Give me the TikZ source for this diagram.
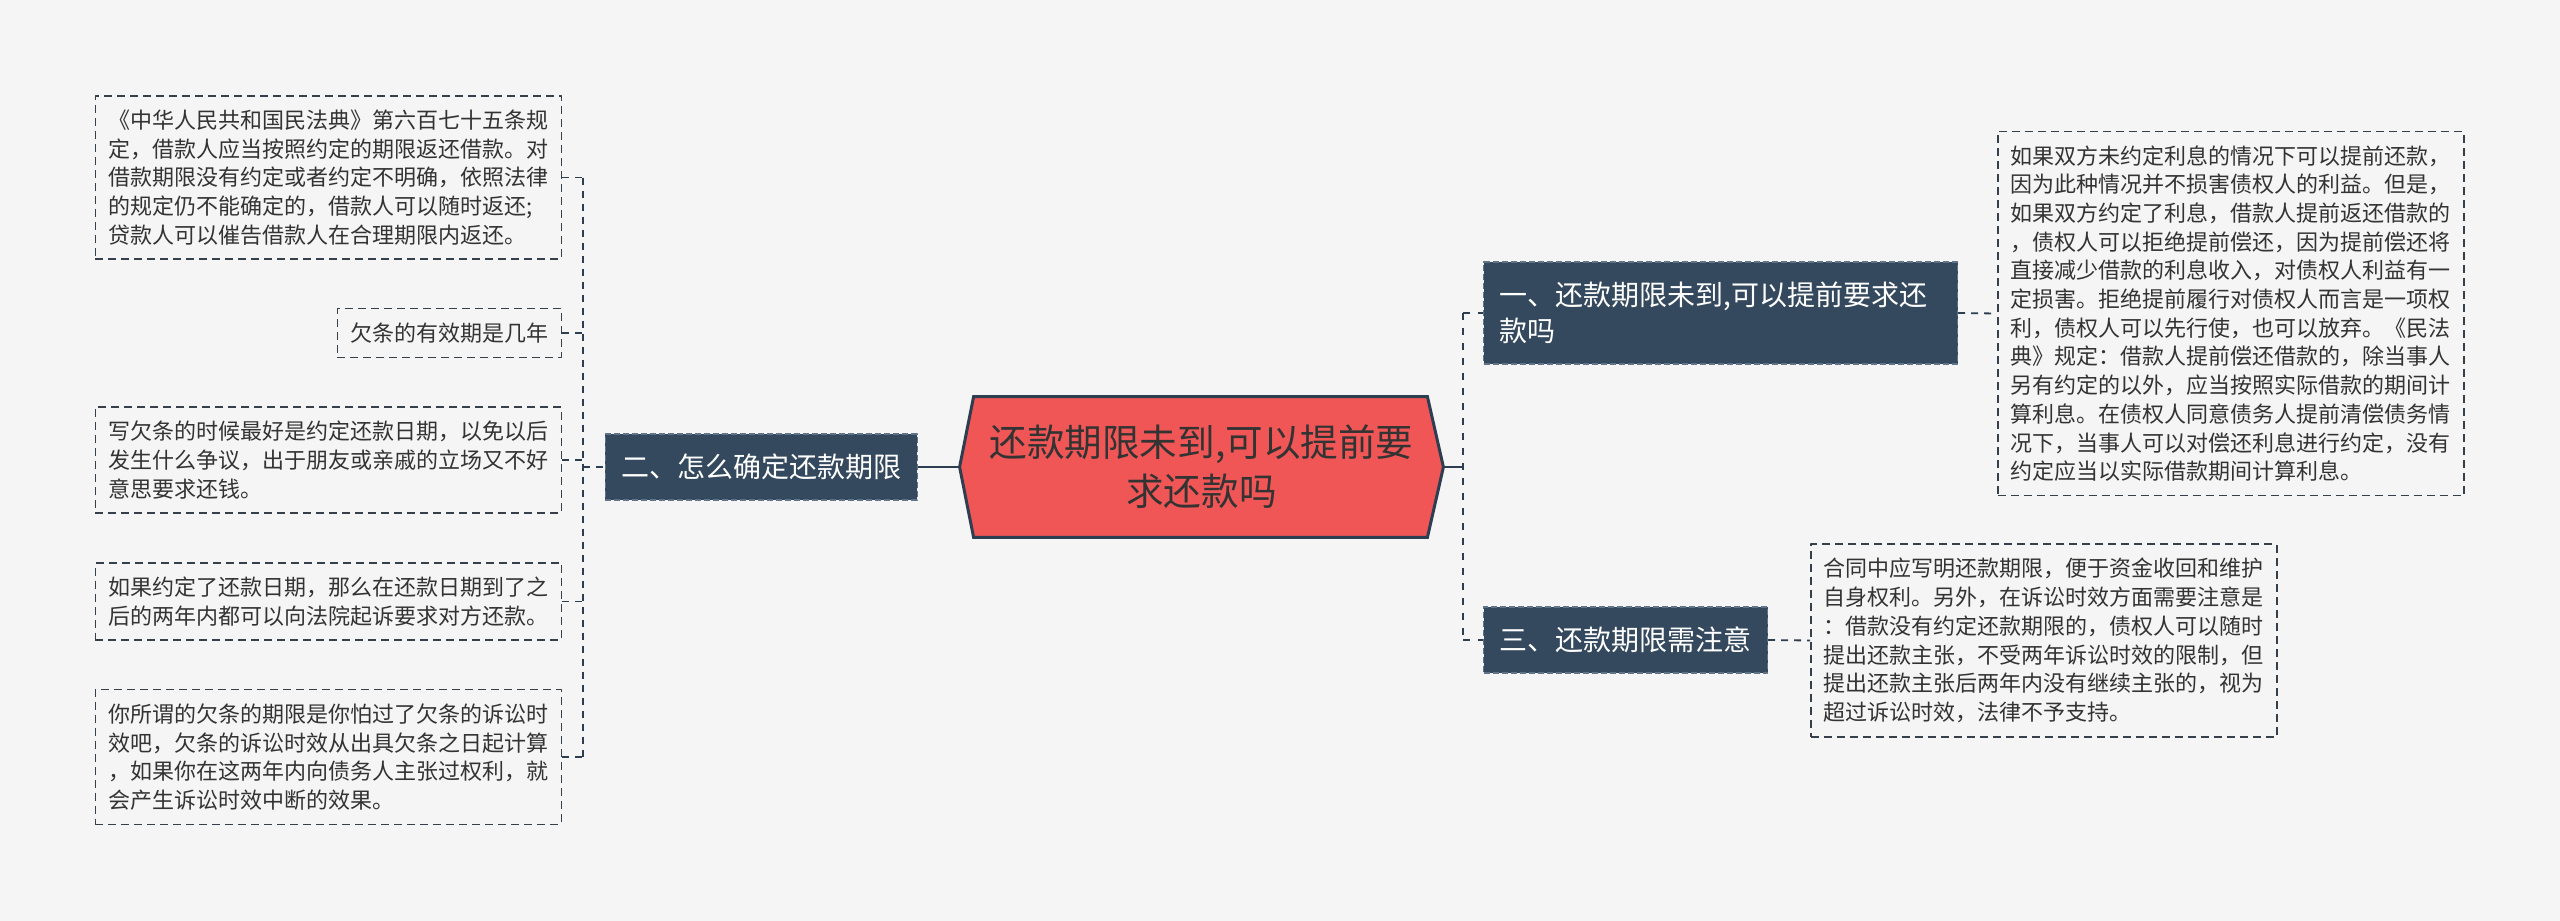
\documentclass[tikz,border=0pt]{standalone}
\usepackage{fontspec}
\setmainfont{Noto Sans CJK SC}
\usepackage{xcolor}
\usepackage{tikz}
\usetikzlibrary{backgrounds}
\definecolor{pagebg}{HTML}{F5F5F5}
\definecolor{rootred}{HTML}{F05656}
\definecolor{navy}{HTML}{2C3E50}
\definecolor{branchfill}{HTML}{34495E}
\definecolor{branchline}{HTML}{5F7389}
\definecolor{leafline}{HTML}{36404B}
\definecolor{txt}{HTML}{333333}
\tikzset{
  rootbox/.style={minimum width=241.5pt, minimum height=70pt, inner sep=0pt,
    align=center, text=txt, font=\fontsize{18.8}{24.5}\selectfont},
  hexfill/.style={fill=rootred, draw=navy, line width=1.5pt},
  branch/.style={fill=branchfill, draw=branchline, line width=0.6pt,
    dash pattern=on 3pt off 1.5pt, text=white, align=left,
    inner xsep=8pt, inner ysep=10pt, font=\fontsize{14}{18}\selectfont},
  leaf/.style={draw=leafline, line width=0.75pt, dash pattern=on 4pt off 2.5pt,
    text=txt, align=left, inner xsep=6.5pt, inner ysep=7pt,
    font=\fontsize{11}{14.35}\selectfont},
  trunk/.style={draw=navy, line width=1.4pt, dash pattern=on 3.5pt off 4pt},
  thinlink/.style={draw=navy, line width=0.9pt, dash pattern=on 3.5pt off 3pt},
  solidlink/.style={draw=navy, line width=1.4pt},
  every picture/.style={line join=round}
}

\begin{document}
\begin{tikzpicture}[x=0.5pt,y=-0.5pt]
  \begin{scope}[on background layer]
    \fill[pagebg] (0,0) rectangle (2560,921);
  \end{scope}
  \useasboundingbox (0,0) rectangle (2560,921);

  % centre topic
  \node[rootbox] (root) at (1201.5,467) {还款期限未到,可以提前要\\求还款吗};
  \begin{scope}[on background layer]
    \draw[hexfill] (root.west) -- ([xshift=7pt]root.north west)
      -- ([xshift=-8pt]root.north east) -- (root.east)
      -- ([xshift=-8pt]root.south east) -- ([xshift=7pt]root.south west) -- cycle;
  \end{scope}

  % branches
  \node[branch, anchor=west, text width=221pt] (b1) at (1483,313)
    {一、还款期限未到,可以提前要求还\\款吗};
  \node[branch, anchor=east] (b2) at (918,467) {二、怎么确定还款期限};
  \node[branch, anchor=west] (b3) at (1483,640) {三、还款期限需注意};

  % leaves, left
  \node[leaf, anchor=east] (l1) at (562,177.5) {%
    《中华人民共和国民法典》第六百七十五条规\\
    定，借款人应当按照约定的期限返还借款。对\\
    借款期限没有约定或者约定不明确，依照法律\\
    的规定仍不能确定的，借款人可以随时返还;\\
    贷款人可以催告借款人在合理期限内返还。};
  \node[leaf, anchor=east] (l2) at (562,333) {欠条的有效期是几年};
  \node[leaf, anchor=east] (l3) at (562,460) {%
    写欠条的时候最好是约定还款日期，以免以后\\
    发生什么争议，出于朋友或亲戚的立场又不好\\
    意思要求还钱。};
  \node[leaf, anchor=east] (l4) at (562,601.5) {%
    如果约定了还款日期，那么在还款日期到了之\\
    后的两年内都可以向法院起诉要求对方还款。};
  \node[leaf, anchor=east] (l5) at (562,757) {%
    你所谓的欠条的期限是你怕过了欠条的诉讼时\\
    效吧，欠条的诉讼时效从出具欠条之日起计算\\
    ，如果你在这两年内向债务人主张过权利，就\\
    会产生诉讼时效中断的效果。};

  % leaves, right
  \node[leaf, anchor=west] (r1) at (1997,313.5) {%
    如果双方未约定利息的情况下可以提前还款，\\
    因为此种情况并不损害债权人的利益。但是，\\
    如果双方约定了利息，借款人提前返还借款的\\
    ，债权人可以拒绝提前偿还，因为提前偿还将\\
    直接减少借款的利息收入，对债权人利益有一\\
    定损害。拒绝提前履行对债权人而言是一项权\\
    利，债权人可以先行使，也可以放弃。《民法\\
    典》规定：借款人提前偿还借款的，除当事人\\
    另有约定的以外，应当按照实际借款的期间计\\
    算利息。在债权人同意债务人提前清偿债务情\\
    况下，当事人可以对偿还利息进行约定，没有\\
    约定应当以实际借款期间计算利息。};
  \node[leaf, anchor=west] (r3) at (1810,640.5) {%
    合同中应写明还款期限，便于资金收回和维护\\
    自身权利。另外，在诉讼时效方面需要注意是\\
    ：借款没有约定还款期限的，债权人可以随时\\
    提出还款主张，不受两年诉讼时效的限制，但\\
    提出还款主张后两年内没有继续主张的，视为\\
    超过诉讼时效，法律不予支持。};

  % connectors
  \coordinate (ltrunk) at (583,467);
  \coordinate (rtrunk) at (1463,467);

  \draw[thinlink] (l1.east -| ltrunk) -- (l5.east -| ltrunk);
  \foreach \n in {l1,l2,l3,l4,l5}
    \draw[thinlink] (\n.east) -- (\n.east -| ltrunk);
  \draw[thinlink] (ltrunk) -- (b2.west);
  \draw[solidlink] (b2.east) -- (root.west);

  \draw[solidlink] (root.east) -- (rtrunk);
  \draw[trunk] (b1.west -| rtrunk) -- (b3.west -| rtrunk);
  \draw[trunk] (b1.west -| rtrunk) -- (b1.west);
  \draw[trunk] (b3.west -| rtrunk) -- (b3.west);
  \draw[thinlink] (b1.east) -- (r1.west);
  \draw[thinlink] (b3.east) -- (r3.west);
\end{tikzpicture}
\end{document}
